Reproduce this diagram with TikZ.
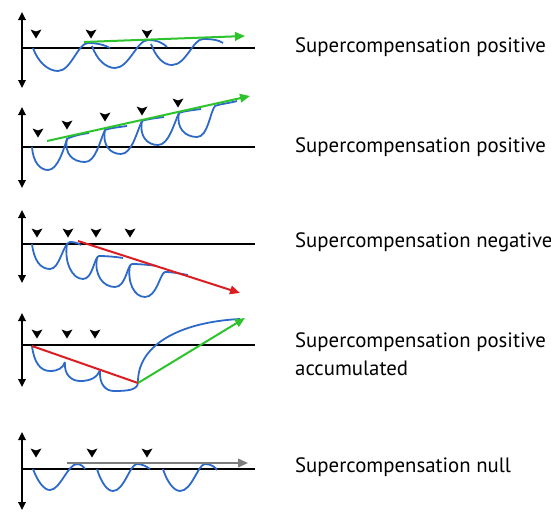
\documentclass[tikz,border=0pt]{standalone}
\usepackage{fontspec}
\setmainfont{PT Sans}
\usetikzlibrary{arrows.meta}
\definecolor{curveblue}{RGB}{45,105,200}
\definecolor{gaingreen}{RGB}{45,195,45}
\definecolor{lossred}{RGB}{220,30,35}
\definecolor{flatgray}{RGB}{125,125,125}
\tikzset{
	axis/.style={line width=1.7pt,{Triangle[length=8pt,width=7.5pt]}-{Triangle[length=8pt,width=7.5pt]}},
	zeroline/.style={line width=1.7pt},
	curve/.style={curveblue,line width=1.8pt},
	trend/.style={line width=2pt,-{Triangle[length=10pt,width=8.5pt]}},
	caption/.style={anchor=base west,inner sep=0pt,font=\fontsize{20.8}{28}\selectfont}
}
\begin{document}
\begin{tikzpicture}[x=1pt,y=-1pt]
	\useasboundingbox (0,0) rectangle (551,514);

	% axes
	\foreach \top/\zero/\bot in {12/48/88, 107/147/188, 210/244/283, 313/345/387, 432/469/510} {
		\draw[axis] (22,\top) -- (22,\bot);
		\draw[zeroline] (22,\zero) -- (255,\zero);
	}

	% training loads
	\foreach \x/\y in {36/34, 91/34, 147/34, 38/133, 67/125, 105/117, 142/111, 178/103, 37/233, 68/233, 96/233, 130/233, 37/334, 67/334, 95/334, 36/453, 92/453, 147/453}
		\fill (\x,\y) +(-5.5,-4.5) -- +(0,4.5) -- +(5.5,-4.5) -- +(0,-2.5) -- cycle;

	% positive
	\draw[curve] (33,48) .. controls (38,62) and (48,71) .. (58,71) .. controls (71,71) and (78,43) .. (88,43) .. controls (97,43) and (105,45) .. (110,48);
	\draw[curve] (92,46) .. controls (97,60) and (106,68) .. (115,68) .. controls (129,68) and (137,40) .. (148,40) .. controls (157,40) and (163,43) .. (167,47);
	\draw[curve] (151,44) .. controls (156,57) and (163,65) .. (172,65) .. controls (186,65) and (193,39) .. (203,39) .. controls (212,39) and (219,40) .. (223,43);
	\coordinate (g1a) at (84,42);
	\coordinate (g1b) at (245,36);
	\draw[trend,gaingreen] (g1a) -- (g1b);
	\node[caption] (pos1) at (295,52) {Supercompensation positive};

	% positive, loops
	\draw[curve] (32,147) .. controls (33,162) and (40,170) .. (48,170) .. controls (58,170) and (64,148) .. (67,139) .. controls (72,136) and (82,134) .. (89,133);
	\draw[curve] (67,139) .. controls (64,154) and (73,162) .. (85,162) .. controls (96,162) and (100,140) .. (105,130) .. controls (110,128) and (120,127) .. (127,126);
	\draw[curve] (105,130) .. controls (102,145) and (110,154) .. (121,154) .. controls (132,154) and (137,131) .. (142,121) .. controls (147,119) and (157,118) .. (164,117);
	\draw[curve] (142,121) .. controls (139,136) and (147,145) .. (158,145) .. controls (169,145) and (174,123) .. (179,113) .. controls (184,111) and (194,110) .. (201,109);
	\draw[curve] (179,113) .. controls (176,128) and (185,137) .. (197,137) .. controls (208,137) and (210,112) .. (215,106) .. controls (220,104) and (230,103) .. (237,101);
	\coordinate (g2a) at (47,141);
	\coordinate (g2b) at (250,96);
	\draw[trend,gaingreen] (g2a) -- (g2b);
	\node[caption] (pos2) at (295,152) {Supercompensation positive};

	% negative
	\draw[curve] (32,244) .. controls (34,260) and (40,269) .. (50,269) .. controls (60,269) and (63,243) .. (70,242) .. controls (74,242) and (78,243) .. (81,245);
	\draw[curve] (67,244) .. controls (64,262) and (72,279) .. (83,279) .. controls (93,279) and (94,257) .. (99,256) .. controls (107,256) and (117,257) .. (123,258);
	\draw[curve] (97,258) .. controls (94,275) and (103,287) .. (115,287) .. controls (126,287) and (127,265) .. (132,264) .. controls (140,264) and (150,265) .. (157,266);
	\draw[curve] (130,265) .. controls (127,282) and (134,297) .. (145,297) .. controls (157,297) and (160,273) .. (165,272) .. controls (173,272) and (182,274) .. (188,275);
	\coordinate (r3a) at (78,241);
	\coordinate (r3b) at (240,293);
	\draw[trend,lossred] (r3a) -- (r3b);
	\node[caption] (neg) at (295,247) {Supercompensation negative};

	% accumulated
	\draw[curve] (32,346) .. controls (34,362) and (40,371) .. (50,371) .. controls (58,371) and (63,368) .. (65,362);
	\draw[curve] (65,363) .. controls (64,375) and (72,381) .. (80,381) .. controls (90,381) and (97,378) .. (100,370);
	\draw[curve] (100,370) .. controls (99,385) and (106,391) .. (114,391) .. controls (128,391) and (137,390) .. (138,383);
	\draw[curve] (138,383) .. controls (137,345) and (180,322) .. (240,319);
	\coordinate (r4a) at (32,346);
	\coordinate (low) at (138,383);
	\coordinate (g4b) at (245,318);
	\draw[lossred,line width=2pt] (r4a) -- (low);
	\draw[trend,gaingreen] (low) -- (g4b);
	\node[caption] (acc1) at (295,347) {Supercompensation positive};
	\node[caption] (acc2) at (295,375) {accumulated};

	% null
	\draw[curve] (33,469) .. controls (38,482) and (44,490) .. (50,490) .. controls (60,490) and (68,464) .. (77,464) .. controls (81,464) and (84,467) .. (85,469);
	\draw[curve] (97,469) .. controls (101,482) and (107,491) .. (113,491) .. controls (124,491) and (130,464) .. (137,464) .. controls (143,464) and (147,467) .. (150,469);
	\draw[curve] (163,469) .. controls (167,482) and (174,491) .. (180,491) .. controls (192,491) and (198,464) .. (205,464) .. controls (211,464) and (215,467) .. (217,470);
	\coordinate (n5a) at (67,463);
	\coordinate (n5b) at (248,463);
	\draw[trend,flatgray] (n5a) -- (n5b);
	\node[caption] (null) at (295,472) {Supercompensation null};
\end{tikzpicture}
\end{document}
